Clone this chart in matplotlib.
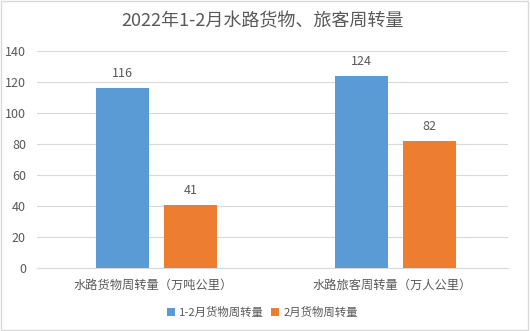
import numpy as np
import matplotlib.pyplot as plt
from matplotlib.patches import Rectangle

plt.rcParams['font.family'] = ['Noto Sans CJK SC', 'DejaVu Sans']

categories = ['水路货物周转量（万吨公里）', '水路旅客周转量（万人公里）']
series_names = ['1-2月货物周转量', '2月货物周转量']
total_jan_feb = [116, 124]
feb_only = [41, 82]
colors = ['#5B9BD5', '#ED7D31']
text_color = '#595959'

fig = plt.figure(figsize=(5.3, 3.31), dpi=100)
ax = fig.add_axes([0.0698, 0.190, 0.8887, 0.656])

x = np.arange(len(categories))
w = 0.222
off = 0.142
b1 = ax.bar(x - off, total_jan_feb, w, color=colors[0], label=series_names[0], zorder=3)
b2 = ax.bar(x + off, feb_only, w, color=colors[1], label=series_names[1], zorder=3)

for bars, vals in ((b1, total_jan_feb), (b2, feb_only)):
    for rect, v in zip(bars, vals):
        ax.text(rect.get_x() + rect.get_width() / 2, v + 5, str(v),
                ha='center', va='bottom', fontsize=9, color=text_color)

ax.set_xlim(-0.5, 1.47)
ax.set_ylim(0, 140)
ax.set_yticks(range(0, 141, 20))
ax.yaxis.grid(True, color='#D9D9D9', linewidth=0.8, zorder=0)
ax.set_xticks(x - 0.015)
ax.set_xticklabels(categories, fontsize=8.8, color=text_color)
ax.tick_params(axis='y', labelsize=9, colors=text_color, length=0, pad=8)
ax.tick_params(axis='x', length=0, pad=8)
for s in ('top', 'right', 'left'):
    ax.spines[s].set_visible(False)
ax.spines['bottom'].set_color('#D9D9D9')

fig.text(0.495, 0.935, '2022年1-2月水路货物、旅客周转量', ha='center', va='center',
         fontsize=13, color=text_color)

fig.legend(handles=[b1, b2], loc='center', bbox_to_anchor=(0.495, 0.055), ncol=2,
           frameon=False, fontsize=8.2, handlelength=0.7, handleheight=0.7,
           handletextpad=0.4, columnspacing=0.6, labelcolor=text_color)

fig.patches.append(Rectangle((0.002, 0.003), 0.995, 0.994, transform=fig.transFigure,
                             fill=False, edgecolor='#D9D9D9', linewidth=1))

fig.savefig('out.png', dpi=100, facecolor='white')
